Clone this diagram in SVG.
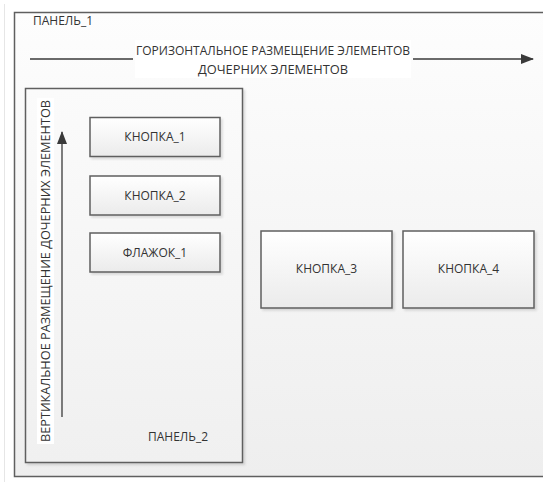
<svg xmlns="http://www.w3.org/2000/svg" width="543" height="482" viewBox="0 0 543 482">
<style>
.box{stroke:#5f5f5f;stroke-width:1.5}
.t{font-family:"Open Sans","Liberation Sans",sans-serif;font-size:12px;fill:#333333}
.c{text-anchor:middle}
.ln{stroke:#3a3a3a;stroke-width:1.3;fill:none}
</style>
<defs>
<linearGradient id="gOuter" x1="0" y1="0" x2="0" y2="1">
<stop offset="0" stop-color="#fdfdfd"/><stop offset="1" stop-color="#eeeeee"/>
</linearGradient>
<linearGradient id="gInner" x1="0" y1="0" x2="0" y2="1">
<stop offset="0" stop-color="#fbfbfb"/><stop offset="1" stop-color="#f0f0f0"/>
</linearGradient>
<linearGradient id="gBtn" x1="0" y1="0" x2="0" y2="1">
<stop offset="0" stop-color="#ffffff"/><stop offset="1" stop-color="#ebebeb"/>
</linearGradient>
<filter id="sh" x="-5%" y="-5%" width="115%" height="115%">
<feDropShadow dx="2" dy="2" stdDeviation="1.2" flood-color="#000000" flood-opacity="0.12"/>
</filter>
<marker id="arr" markerWidth="13" markerHeight="10" refX="12" refY="5" orient="auto" markerUnits="userSpaceOnUse">
<path d="M0,0 L13,5 L0,10 Z" fill="#3a3a3a"/>
</marker>
</defs>
<rect x="0" y="0" width="543" height="482" fill="#ffffff"/>
<line x1="4.5" y1="4" x2="4.5" y2="482" stroke="#e6e6e6" stroke-width="1"/>
<g id="panel1">
<rect class="box" x="14.5" y="12.5" width="540" height="464" fill="url(#gOuter)"/>
<text class="t" x="33" y="25">ПАНЕЛЬ_1</text>
</g>
<g id="panel2">
<rect class="box" x="25.5" y="88.5" width="217" height="374" fill="url(#gInner)" filter="url(#sh)"/>
<text class="t" x="148" y="441">ПАНЕЛЬ_2</text>
</g>
<g id="btn1">
<rect class="box" x="90" y="117.5" width="130" height="39" fill="url(#gBtn)" filter="url(#sh)"/>
<text class="t c" x="155" y="141">КНОПКА_1</text>
</g>
<g id="btn2">
<rect class="box" x="90" y="176" width="130" height="39" fill="url(#gBtn)" filter="url(#sh)"/>
<text class="t c" x="155" y="199.5">КНОПКА_2</text>
</g>
<g id="chk1">
<rect class="box" x="90" y="233" width="130" height="39" fill="url(#gBtn)" filter="url(#sh)"/>
<text class="t c" x="155" y="256.5">ФЛАЖОК_1</text>
</g>
<g id="btn3">
<rect class="box" x="261" y="231" width="131" height="77" fill="url(#gBtn)" filter="url(#sh)"/>
<text class="t c" x="326.5" y="273">КНОПКА_3</text>
</g>
<g id="btn4">
<rect class="box" x="403" y="231" width="131" height="77" fill="url(#gBtn)" filter="url(#sh)"/>
<text class="t c" x="468.5" y="273">КНОПКА_4</text>
</g>
<g id="connectors">
<line class="ln" x1="30" y1="59" x2="133" y2="59"/>
<line class="ln" x1="413" y1="59" x2="533" y2="59" marker-end="url(#arr)"/>
<line class="ln" x1="62" y1="417" x2="62" y2="132" marker-end="url(#arr)"/>
</g>
<g id="labels">
<rect x="135" y="40" width="276" height="38" fill="#ffffff"/>
<text class="t c" x="273" y="55" textLength="274" lengthAdjust="spacingAndGlyphs">ГОРИЗОНТАЛЬНОЕ РАЗМЕЩЕНИЕ ЭЛЕМЕНТОВ</text>
<text class="t c" x="273" y="74" textLength="150" lengthAdjust="spacingAndGlyphs">ДОЧЕРНИХ ЭЛЕМЕНТОВ</text>
<rect x="37" y="98" width="17" height="346" fill="#ffffff"/>
<text class="t c" transform="translate(50 271) rotate(-90)" x="0" y="0" textLength="342" lengthAdjust="spacingAndGlyphs">ВЕРТИКАЛЬНОЕ РАЗМЕЩЕНИЕ ДОЧЕРНИХ ЭЛЕМЕНТОВ</text>
</g>
</svg>
